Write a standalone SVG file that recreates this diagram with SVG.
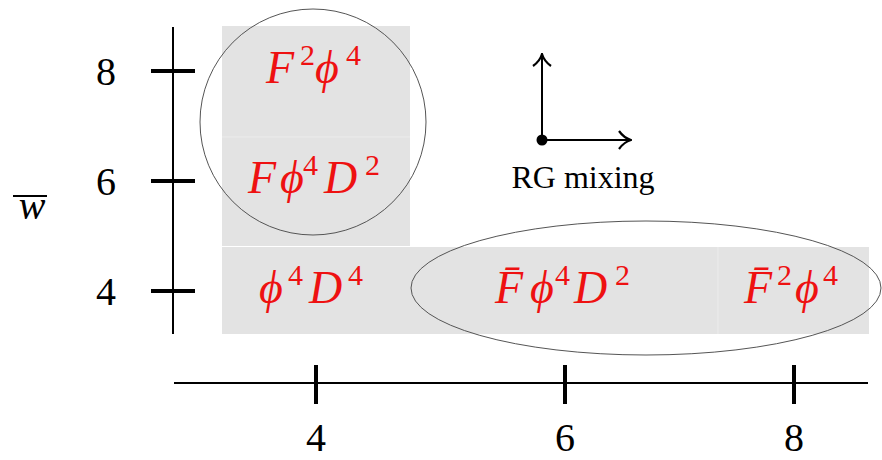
<svg xmlns="http://www.w3.org/2000/svg" width="882" height="460" viewBox="0 0 882 460">
<defs>
<style>
.cell{fill:#e3e3e3}
.seam{stroke:#ececec;stroke-width:1}
.ax{stroke:#000;stroke-width:2;fill:none}
.tk{stroke:#000;stroke-width:4}
.num{font-family:"Liberation Serif",serif;font-size:40px;fill:#000;text-anchor:middle}
.m{font-family:"Liberation Serif","DejaVu Serif",serif;font-style:italic;font-size:46px;fill:#ee1111}
.sup{font-size:30px;font-style:normal}
.ring{fill:none;stroke:#555;stroke-width:1}
</style>
<marker id="ah" viewBox="0 0 14 20" refX="13" refY="10" markerWidth="14" markerHeight="20" markerUnits="userSpaceOnUse" orient="auto">
<path d="M1,1 Q6,8 13,10 Q6,12 1,19" fill="none" stroke="#000" stroke-width="2.2"/>
</marker>
</defs>
<rect width="882" height="460" fill="#fff"/>
<g id="cells">
<rect class="cell" x="222" y="26" width="188" height="220"/>
<rect class="cell" x="222" y="247" width="647" height="87"/>
<line class="seam" x1="222" y1="137" x2="410" y2="137"/>
<line class="seam" x1="718" y1="247" x2="718" y2="334"/>
</g>
<g id="axes">
<line class="ax" x1="173" y1="27" x2="173" y2="334"/>
<line class="ax" x1="174" y1="383" x2="868" y2="383"/>
<line class="tk" x1="151" y1="71" x2="195" y2="71"/>
<line class="tk" x1="151" y1="181" x2="195" y2="181"/>
<line class="tk" x1="151" y1="291" x2="195" y2="291"/>
<line class="tk" x1="316" y1="365" x2="316" y2="404"/>
<line class="tk" x1="565" y1="365" x2="565" y2="404"/>
<line class="tk" x1="794" y1="365" x2="794" y2="404"/>
<text class="num" x="106" y="85">8</text>
<text class="num" x="106" y="195">6</text>
<text class="num" x="106" y="305">4</text>
<text class="num" x="316" y="451">4</text>
<text class="num" x="565" y="451">6</text>
<text class="num" x="794" y="451">8</text>
<text class="num" x="32" y="219" font-style="italic">w</text>
<line x1="13" y1="196" x2="47" y2="196" stroke="#000" stroke-width="2"/>
</g>
<g id="n-F2phi4"><text class="m"><tspan x="266" y="83">F</tspan><tspan class="sup" x="300" y="65">2</tspan><tspan x="315" y="83">ϕ</tspan><tspan class="sup" x="346" y="65">4</tspan></text></g>
<g id="n-Fphi4D2"><text class="m"><tspan x="248" y="193">F</tspan><tspan x="280" y="193">ϕ</tspan><tspan class="sup" x="303" y="175">4</tspan><tspan x="324" y="193">D</tspan><tspan class="sup" x="365" y="175">2</tspan></text></g>
<g id="n-phi4D4"><text class="m"><tspan x="259" y="303">ϕ</tspan><tspan class="sup" x="288" y="285">4</tspan><tspan x="309" y="303">D</tspan><tspan class="sup" x="348" y="285">4</tspan></text></g>
<g id="n-Fbphi4D2"><text class="m"><tspan x="495" y="303">F̄</tspan><tspan x="530" y="303">ϕ</tspan><tspan class="sup" x="555" y="285">4</tspan><tspan x="574" y="303">D</tspan><tspan class="sup" x="615" y="285">2</tspan></text></g>
<g id="n-Fb2phi4"><text class="m"><tspan x="744" y="303">F̄</tspan><tspan class="sup" x="777" y="285">2</tspan><tspan x="795" y="303">ϕ</tspan><tspan class="sup" x="823" y="285">4</tspan></text></g>
<g id="groups">
<circle class="ring" cx="313" cy="122" r="113"/>
<ellipse class="ring" cx="646" cy="288" rx="235" ry="67"/>
</g>
<g id="rg-legend">
<line class="ax" x1="542" y1="140" x2="542" y2="54" marker-end="url(#ah)" stroke-width="2.5"/>
<line class="ax" x1="542" y1="140" x2="631" y2="140" marker-end="url(#ah)" stroke-width="2.5"/>
<circle cx="542" cy="140" r="5.5" fill="#000"/>
<text x="583" y="188" font-family="Liberation Serif, serif" font-size="32" text-anchor="middle" fill="#000">RG mixing</text>
</g>
</svg>
